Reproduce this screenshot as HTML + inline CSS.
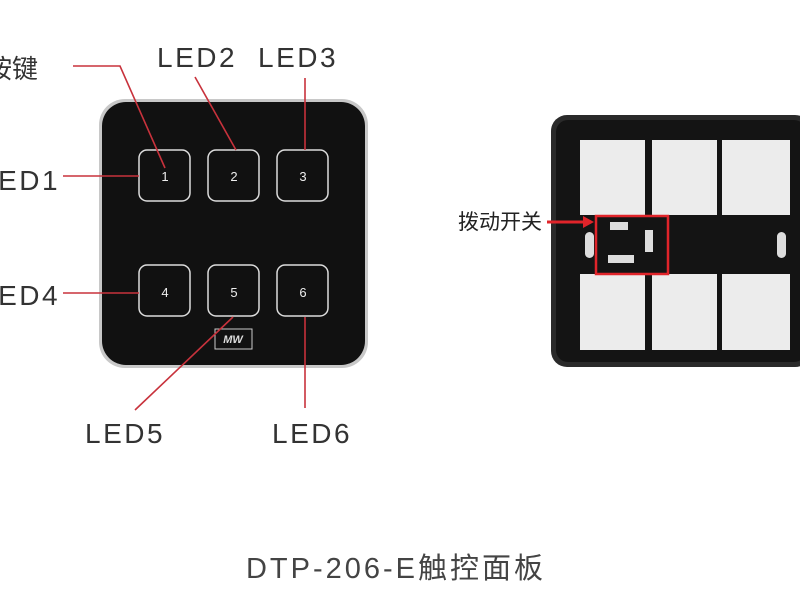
<!DOCTYPE html>
<html><head><meta charset="utf-8"><style>
html,body{margin:0;padding:0;background:#fff;}
svg{display:block}
</style></head><body>
<svg width="800" height="600" xmlns="http://www.w3.org/2000/svg" font-family="'Liberation Sans','Noto Sans CJK SC',sans-serif">
<rect width="800" height="600" fill="#fff"/>
<rect x="99" y="99" width="269" height="269" rx="26" fill="#c8c8c8"/>
<rect x="102" y="102" width="263" height="263" rx="24" fill="#111"/>
<g fill="none" stroke="#ddd" stroke-width="1.5">
<rect x="139" y="150" width="51" height="51" rx="8"/>
<rect x="208" y="150" width="51" height="51" rx="8"/>
<rect x="277" y="150" width="51" height="51" rx="8"/>
<rect x="139" y="265" width="51" height="51" rx="8"/>
<rect x="208" y="265" width="51" height="51" rx="8"/>
<rect x="277" y="265" width="51" height="51" rx="8"/>
</g>
<g fill="#eee" font-size="13" text-anchor="middle">
<text x="165" y="181">1</text><text x="234" y="181">2</text><text x="303" y="181">3</text>
<text x="165" y="297">4</text><text x="234" y="297">5</text><text x="303" y="297">6</text>
</g>
<rect x="215" y="329" width="37" height="20" fill="none" stroke="#ccc" stroke-width="1"/>
<text x="233" y="343" fill="#ddd" font-size="11" font-style="italic" font-weight="bold" text-anchor="middle">MW</text>
<g stroke="#c8323c" stroke-width="1.6" fill="none">
<polyline points="73,66 120,66 165,168"/>
<line x1="195" y1="77" x2="236" y2="150"/>
<line x1="305" y1="78" x2="305" y2="150"/>
<line x1="63" y1="176" x2="139" y2="176"/>
<line x1="63" y1="293" x2="139" y2="293"/>
<line x1="135" y1="410" x2="233" y2="317"/>
<line x1="305" y1="317" x2="305" y2="408"/>
</g>
<g fill="#333" font-size="28" letter-spacing="2.5">
<text x="-14" y="78" font-family="'Noto Sans CJK SC',sans-serif" font-size="26" letter-spacing="0">按键</text>
<text x="-20" y="190">LED1</text>
<text x="157" y="67">LED2</text>
<text x="258" y="67">LED3</text>
<text x="-20" y="305">LED4</text>
<text x="85" y="443">LED5</text>
<text x="272" y="443">LED6</text>
</g>
<rect x="551" y="115" width="260" height="252" rx="16" fill="#2a2a2a"/>
<rect x="556" y="120" width="250" height="242" rx="12" fill="#141414"/>
<g fill="#ececec">
<rect x="580" y="140" width="65" height="75"/>
<rect x="652" y="140" width="65" height="75"/>
<rect x="722" y="140" width="68" height="75"/>
<rect x="580" y="274" width="65" height="76"/>
<rect x="652" y="274" width="65" height="76"/>
<rect x="722" y="274" width="68" height="76"/>
</g>
<rect x="585" y="232" width="9" height="26" rx="4.5" fill="#ddd"/>
<rect x="777" y="232" width="9" height="26" rx="4.5" fill="#ddd"/>
<rect x="610" y="222" width="18" height="8" fill="#ddd"/>
<rect x="608" y="255" width="26" height="8" fill="#ddd"/>
<rect x="645" y="230" width="8" height="22" fill="#ddd"/>
<rect x="596" y="216" width="72" height="58" fill="none" stroke="#e0242a" stroke-width="2.5"/>
<text x="458" y="229" fill="#222" font-size="21" font-family="'Noto Sans CJK SC',sans-serif">拨动开关</text>
<line x1="547" y1="222" x2="585" y2="222" stroke="#e0242a" stroke-width="3"/>
<polygon points="594,222 583,216 583,228" fill="#e0242a"/>
<text x="396" y="578" fill="#444" font-size="29" letter-spacing="3" text-anchor="middle" font-family="'Liberation Sans','Noto Sans CJK SC',sans-serif">DTP-206-E触控面板</text>
</svg>
</body></html>
